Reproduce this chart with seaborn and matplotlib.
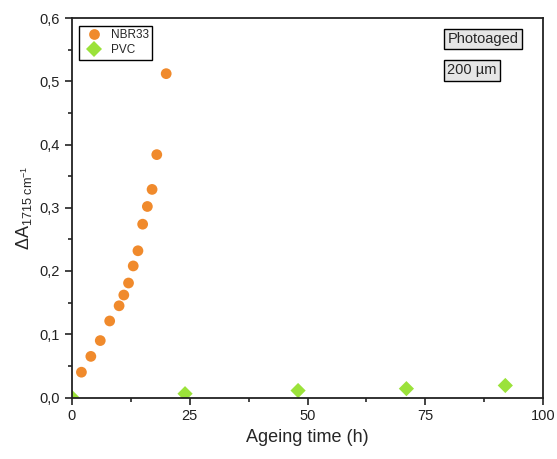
import numpy as np
import pandas as pd
import matplotlib
matplotlib.use("Agg")
import matplotlib.pyplot as plt
import seaborn as sns
from matplotlib.ticker import MultipleLocator, FuncFormatter

# data
nbr_time = [2, 4, 6, 8, 10, 11, 12, 13, 14, 15, 16, 17, 18, 20]
nbr_abs = [0.040, 0.065, 0.090, 0.121, 0.145, 0.162, 0.181, 0.208, 0.232, 0.274, 0.302, 0.329, 0.384, 0.512]
pvc_time = [0, 24, 48, 71, 92]
pvc_abs = [0.0, 0.006, 0.011, 0.014, 0.019]

sns.set_theme(style="ticks")
plt.rcParams['font.family'] = ['Liberation Sans', 'DejaVu Sans']
plt.rcParams['mathtext.fontset'] = 'custom'
plt.rcParams['mathtext.rm'] = 'Liberation Sans'
plt.rcParams['mathtext.it'] = 'Liberation Sans'

df = pd.concat([
    pd.DataFrame({"time": nbr_time, "abs": nbr_abs, "sample": "NBR33"}),
    pd.DataFrame({"time": pvc_time, "abs": pvc_abs, "sample": "PVC"}),
])

fig = plt.figure(figsize=(5.57, 4.59), dpi=100)
ax = fig.add_axes([72/557, 1 - 397.5/459, (543-72)/557, (397.5-18)/459])

sns.scatterplot(data=df, x="time", y="abs", hue="sample", style="sample",
                markers={"NBR33": "o", "PVC": "D"},
                palette={"NBR33": "#F08A2C", "PVC": "#9BE23A"},
                s=60, linewidth=0, ax=ax, clip_on=True)

ax.set_xlim(0, 100)
ax.set_ylim(0, 0.6)
ax.xaxis.set_major_locator(MultipleLocator(25))
ax.xaxis.set_minor_locator(MultipleLocator(12.5))
ax.yaxis.set_major_locator(MultipleLocator(0.1))
ax.yaxis.set_minor_locator(MultipleLocator(0.05))
ax.yaxis.set_major_formatter(FuncFormatter(lambda v, p: f"{v:.1f}".replace(".", ",")))
ax.tick_params(which="major", direction="out", length=5, width=1.2, labelsize=10.5, colors="#222222")
ax.tick_params(which="minor", direction="out", length=3, width=1.2)
for sp in ax.spines.values():
    sp.set_linewidth(1.3)
    sp.set_color("#222222")

ax.set_xlabel("Ageing time (h)", fontsize=13)
ax.set_ylabel(r"$\Delta\mathrm{A}_{1715\ \mathrm{cm}^{-1}}$", fontsize=13)

leg = ax.legend(loc="upper left", bbox_to_anchor=(0.015, 0.98), borderaxespad=0, fontsize=8.5,
                frameon=True, fancybox=False, edgecolor="black", framealpha=1,
                borderpad=0.3, handletextpad=0.4, labelspacing=0.25, markerscale=1.0)
leg.get_frame().set_linewidth(1.0)

box = dict(boxstyle="square,pad=0.22", facecolor="#E6E6E6", edgecolor="black", linewidth=1)
ax.text(0.797, 0.945, "Photoaged", transform=ax.transAxes, fontsize=10.5, va="center", ha="left", bbox=box)
ax.text(0.797, 0.862, "200 µm", transform=ax.transAxes, fontsize=10.5, va="center", ha="left", bbox=box)

fig.savefig("out.png", dpi=100)
